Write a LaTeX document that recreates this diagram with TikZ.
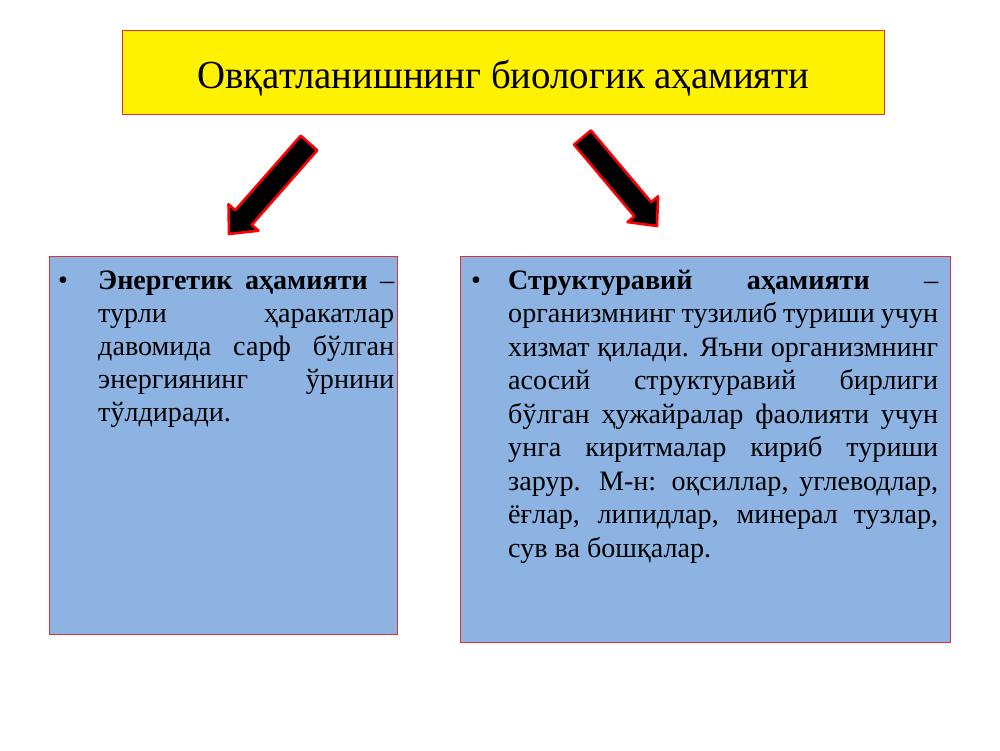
\documentclass[tikz,border=0pt]{standalone}
\usepackage{fontspec}
\setmainfont{Liberation Serif}
\definecolor{boxblue}{HTML}{8DB3E2}
\definecolor{edgered}{HTML}{E0303A}
\begin{document}
\begin{tikzpicture}[x=0.03cm,y=-0.03cm,
  panel/.style={draw=edgered, line width=0.8pt, fill=boxblue, anchor=north west, inner sep=0pt},
  titlebox/.style={draw=edgered, line width=0.8pt, fill=yellow, anchor=north west, inner sep=0pt},
  bigarrow/.style={fill=black, draw=red, line width=2.2pt, line join=round},
  bodyline/.style={anchor=base west, inner sep=0pt, font=\fontsize{24}{29}\selectfont},
  bulletmark/.style={anchor=base, inner sep=0pt, font=\fontsize{24}{29}\selectfont}]
\useasboundingbox[fill=white] (0,0) rectangle (1000,750);

% title
\node[titlebox, minimum width=22.86cm, minimum height=2.52cm] (title) at (122,30) {};
\node[anchor=base, inner sep=0pt, font=\fontsize{34}{40}\selectfont] (titletext) at (503.5,88) {\scalebox{0.975}[1]{Овқатланишнинг биологик аҳамияти}};

% arrows
\draw[bigarrow] (300.7,135.7) -- (317.3,150.3) -- (251.8,224.8) -- (258.5,230.7) -- (229,234) -- (228.5,204.3) -- (235.2,210.2) -- cycle;
\draw[bigarrow] (590.9,130.4) -- (574.1,144.6) -- (634.4,216.3) -- (627.5,222.1) -- (657,226) -- (658.1,196.3) -- (651.2,202.1) -- cycle;

% panels
\node[panel, minimum width=10.44cm, minimum height=11.34cm] (left) at (49,256) {};
\node[panel, minimum width=14.7cm, minimum height=11.58cm] (right) at (460,256) {};

% left text
\node[bulletmark] (lb) at (63,289) {•};
\node[bodyline] (l1) at (98,289) {\makebox[8.88cm][s]{\textbf{Энергетик аҳамияти} –}};
\node[bodyline] (l2) at (98,322) {\makebox[8.88cm][s]{турли ҳаракатлар}};
\node[bodyline] (l3) at (98,355) {\makebox[8.88cm][s]{давомида сарф бўлган}};
\node[bodyline] (l4) at (98,388) {\makebox[8.88cm][s]{энергиянинг ўрнини}};
\node[bodyline] (l5) at (98,421) {тўлдиради.};

% right text
\node[bulletmark] (rb) at (476,289) {•};
\node[bodyline] (r1) at (508,289.0) {\makebox[12.9cm][s]{\textbf{Структуравий аҳамияти} –}};
\node[bodyline] (r2) at (508,322.5) {\makebox[12.9cm][s]{организмнинг тузилиб туриши учун}};
\node[bodyline] (r3) at (508,356.0) {\makebox[12.9cm][s]{хизмат қилади. Яъни организмнинг}};
\node[bodyline] (r4) at (508,389.5) {\makebox[12.9cm][s]{асосий структуравий бирлиги}};
\node[bodyline] (r5) at (508,423.0) {\makebox[12.9cm][s]{бўлган ҳужайралар фаолияти учун}};
\node[bodyline] (r6) at (508,456.5) {\makebox[12.9cm][s]{унга киритмалар кириб туриши}};
\node[bodyline] (r7) at (508,490.0) {\makebox[12.9cm][s]{зарур. М-н: оқсиллар, углеводлар,}};
\node[bodyline] (r8) at (508,523.5) {\makebox[12.9cm][s]{ёғлар, липидлар, минерал тузлар,}};
\node[bodyline] (r9) at (508,557.0) {сув ва бошқалар.};
\end{tikzpicture}
\end{document}
